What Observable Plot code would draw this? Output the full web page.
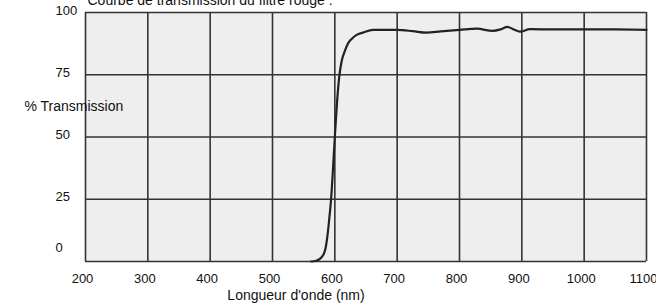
<!DOCTYPE html>
<html>
<head>
<meta charset="utf-8">
<script src="https://cdn.jsdelivr.net/npm/d3@7"></script>
<script src="https://cdn.jsdelivr.net/npm/@observablehq/plot@0.6"></script>
<style>
  html, body { margin: 0; padding: 0; background: white; }
</style>
</head>
<body>
<div id="chart"></div>
<script>
const title = "Courbe de transmission du filtre rouge :";
const xLabel = "Longueur d'onde (nm)";
const yLabel = "% Transmission";
const xTicks = [200, 300, 400, 500, 600, 700, 800, 900, 1000, 1100];
const yTicks = [25, 50, 75, 100];
const yZeroTick = [0];

const wavelength = [562, 570, 578, 584, 588, 591, 594, 597, 600, 603, 607, 611, 616, 621, 627, 635, 645, 661, 680, 700, 725, 747, 770, 800, 828, 853, 866, 877, 887, 897, 913, 950, 1000, 1050, 1100];
const transmission = [0, 0.3, 1.5, 4.2, 10, 17, 25, 37, 50, 62, 74, 80.5, 84.5, 87.5, 89.4, 91, 91.9, 93, 93, 93, 92.5, 91.9, 92.4, 93, 93.5, 92.6, 93.2, 94.2, 93.2, 92.3, 93.3, 93.2, 93.2, 93.2, 93.0];

const data = wavelength.map((w, i) => ({w, t: transmission[i]}));

const chart = Plot.plot({
  width: 656,
  height: 304,
  marginLeft: 85,
  marginRight: 10,
  marginTop: 12,
  marginBottom: 43,
  x: {domain: [200, 1100], axis: null},
  y: {domain: [0, 100], axis: null},
  style: {fontFamily: "'Liberation Sans', Arial, sans-serif", background: "white", color: "#111"},
  marks: [
    Plot.frame({fill: "#eeeeee", stroke: null}),
    Plot.ruleX(xTicks, {x: d => d, stroke: "#333", strokeWidth: 1.6}),
    Plot.ruleY([0, ...yTicks], {y: d => d, stroke: "#333", strokeWidth: 1.6}),
    Plot.line(data, {x: "w", y: "t", stroke: "#222", strokeWidth: 2.2, curve: "monotone-x"}),
    Plot.text(xTicks, {x: d => d, frameAnchor: "bottom", dy: 21, dx: -3, text: d => String(d), fontSize: 13, fill: "#111"}),
    Plot.text(yTicks, {y: d => d, frameAnchor: "left", dx: -30, dy: -2, textAnchor: "start", text: d => String(d), fontSize: 13, fill: "#111"}),
    Plot.text(yZeroTick, {y: d => d, frameAnchor: "left", dx: -30, dy: -14, textAnchor: "start", text: d => String(d), fontSize: 13, fill: "#111"}),
    Plot.text([yLabel], {frameAnchor: "top-left", dx: -61, dy: 94, textAnchor: "start", lineAnchor: "middle", text: d => d, fontSize: 14, fill: "#111"}),
    Plot.text([xLabel], {frameAnchor: "bottom", dx: -70, dy: 38, text: d => d, fontSize: 14, fill: "#111"}),
    Plot.text([title], {frameAnchor: "top-left", dx: 2, dy: -8, textAnchor: "start", lineAnchor: "bottom", text: d => d, fontSize: 14, fill: "#111"})
  ]
});
document.getElementById("chart").append(chart);
</script>
</body>
</html>
